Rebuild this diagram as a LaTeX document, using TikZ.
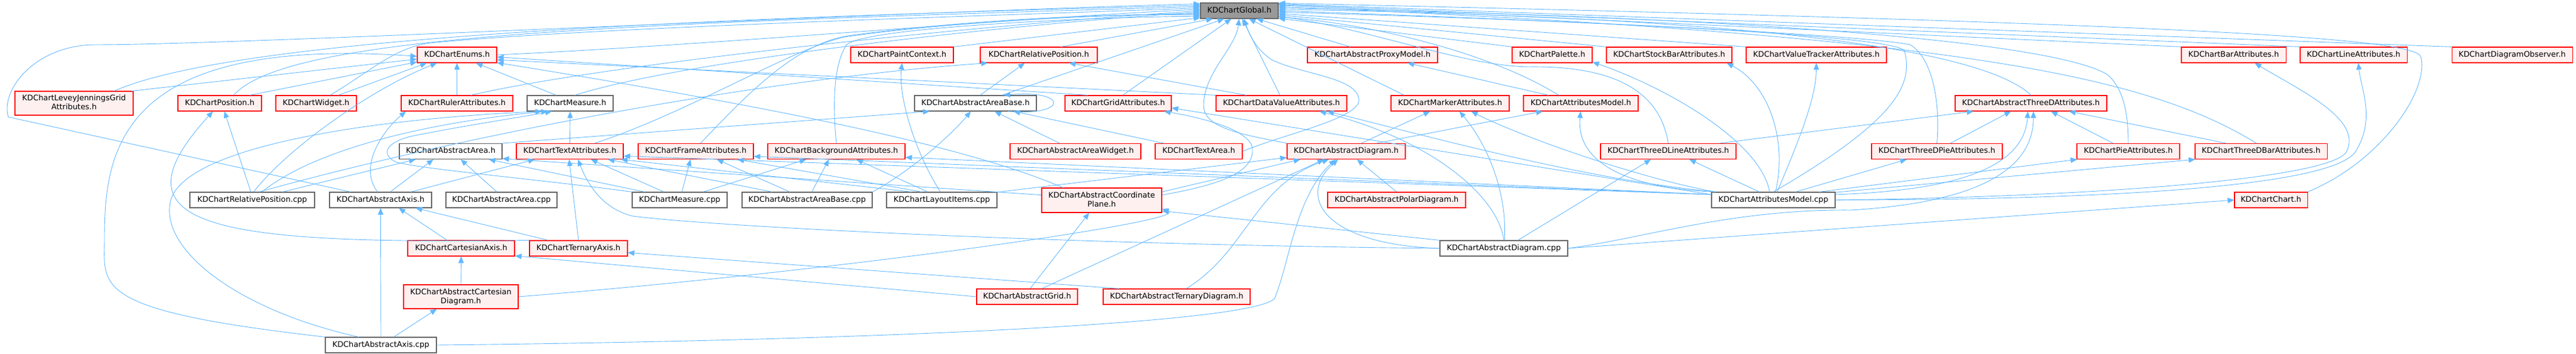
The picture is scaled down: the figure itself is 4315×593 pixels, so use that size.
\documentclass[tikz,border=0pt]{standalone}
\usepackage{fontspec}
\setmainfont{DejaVu Sans}
\usetikzlibrary{arrows.meta}
\definecolor{edgeblue}{HTML}{63B8FF}
\definecolor{nodered}{HTML}{FF0000}
\definecolor{redfill}{HTML}{FFF0F0}
\definecolor{nodegray}{HTML}{666666}
\definecolor{globalfill}{HTML}{999999}
\begin{document}
\begin{tikzpicture}[x=1bp,y=-1bp,
  box/.style={line width=1.1bp,inner sep=0pt,minimum height=26bp,align=center,text height=9.6bp,text depth=2.6bp,font=\fontsize{12.9bp}{15bp}\selectfont},
  rnode/.style={box,draw=nodered,fill=redfill},
  fnode/.style={box,draw=nodegray,fill=white},
  gnode/.style={box,draw=nodegray,fill=globalfill},
  twoline/.style={minimum height=40bp,text height=24.6bp,text depth=2.6bp},
  edge/.style={draw=edgeblue,line width=0.9bp,-{Triangle[length=11bp,width=9bp]}}]
\useasboundingbox (0,0) rectangle (4315,593);
\node[gnode,minimum width=130bp] (globalh) at (2076,18) {KDChartGlobal.h};
\node[rnode,minimum width=133bp] (enums) at (765.5,92) {KDChartEnums.h};
\node[rnode,minimum width=172bp] (paintctx) at (1511,92) {KDChartPaintContext.h};
\node[rnode,minimum width=196bp] (relposh) at (1740,92) {KDChartRelativePosition.h};
\node[rnode,minimum width=218bp] (proxymodel) at (2299,92) {KDChartAbstractProxyModel.h};
\node[rnode,minimum width=134bp] (palette) at (2600,92) {KDChartPalette.h};
\node[rnode,minimum width=210bp] (stockbar) at (2796,92) {KDChartStockBarAttributes.h};
\node[rnode,minimum width=235bp] (valtracker) at (3042.5,92) {KDChartValueTrackerAttributes.h};
\node[rnode,minimum width=175bp] (barattr) at (3741.5,92) {KDChartBarAttributes.h};
\node[rnode,minimum width=179bp] (lineattr) at (3942.5,92) {KDChartLineAttributes.h};
\node[rnode,minimum width=202bp] (diagobs) at (4208,92) {KDChartDiagramObserver.h};
\node[rnode,twoline,minimum width=198bp] (leveyj) at (124,173) {KDChartLeveyJenningsGrid\\Attributes.h};
\node[rnode,minimum width=140bp] (positionh) at (368,173) {KDChartPosition.h};
\node[rnode,minimum width=135bp] (widget) at (529.5,173) {KDChartWidget.h};
\node[rnode,minimum width=187bp] (ruler) at (765.5,173) {KDChartRulerAttributes.h};
\node[fnode,minimum width=144bp] (measureh) at (955,173) {KDChartMeasure.h};
\node[fnode,minimum width=204bp] (areabaseh) at (1634,173) {KDChartAbstractAreaBase.h};
\node[rnode,minimum width=178bp] (gridattr) at (1873,173) {KDChartGridAttributes.h};
\node[rnode,minimum width=219bp] (dvattr) at (2146.5,173) {KDChartDataValueAttributes.h};
\node[rnode,minimum width=198bp] (marker) at (2429,173) {KDChartMarkerAttributes.h};
\node[rnode,minimum width=192bp] (attrmodelh) at (2648,173) {KDChartAttributesModel.h};
\node[rnode,minimum width=254bp] (threedattr) at (3402,173) {KDChartAbstractThreeDAttributes.h};
\node[fnode,minimum width=172bp] (areah) at (755,253.5) {KDChartAbstractArea.h};
\node[rnode,minimum width=179bp] (textattr) at (954.5,253.5) {KDChartTextAttributes.h};
\node[rnode,minimum width=193bp] (frameattr) at (1165.5,253.5) {KDChartFrameAttributes.h};
\node[rnode,minimum width=230bp] (bgattr) at (1401,253.5) {KDChartBackgroundAttributes.h};
\node[rnode,minimum width=219bp] (areawidget) at (1801.5,253.5) {KDChartAbstractAreaWidget.h};
\node[rnode,minimum width=146bp] (textarea) at (2008,253.5) {KDChartTextArea.h};
\node[rnode,minimum width=198bp] (diagramh) at (2255,253.5) {KDChartAbstractDiagram.h};
\node[rnode,minimum width=227bp] (threedline) at (2794.5,253.5) {KDChartThreeDLineAttributes.h};
\node[rnode,minimum width=219bp] (threedpie) at (3244.5,253.5) {KDChartThreeDPieAttributes.h};
\node[rnode,minimum width=172bp] (pieattr) at (3565,253.5) {KDChartPieAttributes.h};
\node[rnode,minimum width=221bp] (threedbar) at (3787.5,253.5) {KDChartThreeDBarAttributes.h};
\node[fnode,minimum width=209bp] (relposcpp) at (422.5,335) {KDChartRelativePosition.cpp};
\node[fnode,minimum width=171bp] (axish) at (637.5,335) {KDChartAbstractAxis.h};
\node[fnode,minimum width=186bp] (areacpp) at (840,335) {KDChartAbstractArea.cpp};
\node[fnode,minimum width=159bp] (measurecpp) at (1138.5,335) {KDChartMeasure.cpp};
\node[fnode,minimum width=218bp] (areabasecpp) at (1352,335) {KDChartAbstractAreaBase.cpp};
\node[fnode,minimum width=185bp] (layoutcpp) at (1577.5,335) {KDChartLayoutItems.cpp};
\node[rnode,twoline,minimum width=201bp,minimum height=41bp] (coordplane) at (1845.5,335.5) {KDChartAbstractCoordinate\\Plane.h};
\node[rnode,minimum width=231bp] (polar) at (2339.5,335) {KDChartAbstractPolarDiagram.h};
\node[fnode,minimum width=207bp] (attrmodelcpp) at (2970.5,335) {KDChartAttributesModel.cpp};
\node[rnode,minimum width=122bp] (charth) at (3804,335) {KDChartChart.h};
\node[rnode,minimum width=179bp] (cartaxis) at (772.5,416) {KDChartCartesianAxis.h};
\node[rnode,minimum width=164bp] (ternaryaxis) at (969,416) {KDChartTernaryAxis.h};
\node[fnode,minimum width=214bp] (diagramcpp) at (2519,416) {KDChartAbstractDiagram.cpp};
\node[rnode,twoline,minimum width=192bp] (cartdiag) at (772,497) {KDChartAbstractCartesian\\Diagram.h};
\node[rnode,minimum width=169bp] (gridh) at (1720.5,497) {KDChartAbstractGrid.h};
\node[rnode,minimum width=246bp] (ternarydiag) at (1971,497) {KDChartAbstractTernaryDiagram.h};
\node[fnode,minimum width=186bp] (axiscpp) at (638,578) {KDChartAbstractAxis.cpp};

\draw[edge] (leveyj.17) .. controls (400,60) and (1200,30) .. (globalh.172);
\draw[edge] (positionh.30) .. controls (480,60) and (1000,40) .. (globalh.174);
\draw[edge] (widget.30) .. controls (620,120) and (660,80) .. (720,72) .. controls (1000,45) and (1700,25) .. (globalh.176);
\draw[edge] (enums.east) .. controls (1200,75) and (1700,30) .. (globalh.178);
\draw[edge] (ruler.30) .. controls (1000,110) and (1600,45) .. (globalh.180);
\draw[edge] (measureh.60) .. controls (1150,100) and (1700,40) .. (globalh.182);
\draw[edge] (textattr.18) .. controls (1150,190) and (1330,80) .. (1415,62) .. controls (1600,35) and (1850,25) .. (globalh.184);
\draw[edge] (frameattr.60) .. controls (1250,160) and (1330,75) .. (1420,60) .. controls (1600,35) and (1850,22) .. (globalh.186);
\draw[edge] (bgattr.north) .. controls (1395,180) and (1395,110) .. (1418,75) .. controls (1450,45) and (1850,28) .. (globalh.188);
\draw[edge] (paintctx.north east) -- (globalh.190);
\draw[edge] (relposh.20) -- (globalh.197);
\draw[edge] (areabaseh.17) -- (globalh.208);
\draw[edge] (gridattr.60) -- (globalh.225);
\draw[edge] (diagramh.north west) .. controls (2080,225) and (2015,215) .. (2016,175) .. controls (2018,120) and (2070,80) .. (globalh.268);
\draw[edge] (dvattr.100) -- (globalh.290);
\draw[edge] (textarea.east) .. controls (2150,225) and (2270,200) .. (2276,170) .. controls (2280,130) and (2180,125) .. (2130,100) .. controls (2100,80) and (2090,50) .. (globalh.300);
\draw[edge] (marker.170) -- (globalh.320);
\draw[edge] (proxymodel.160) -- (globalh.335);
\draw[edge] (attrmodelh.160) .. controls (2500,90) and (2300,40) .. (globalh.351);
\draw[edge] (threedline.north) .. controls (2780,150) and (2700,110) .. (2560,112) .. controls (2450,110) and (2300,50) .. (globalh.352);
\foreach \n/\a in {palette/349,stockbar/354,valtracker/356,barattr/8,lineattr/9,diagobs/10}
    \draw[edge] (\n.north west) -- (globalh.\a);
\draw[edge] (attrmodelcpp.north) .. controls (3180,200) and (3205,140) .. (3190,85) .. controls (3170,55) and (2500,30) .. (globalh.358);
\draw[edge] (threedpie.north) .. controls (3250,180) and (3240,100) .. (3200,75) .. controls (3100,55) and (2500,30) .. (globalh.0);
\draw[edge] (threedattr.north) .. controls (3330,90) and (3000,30) .. (globalh.2);
\draw[edge] (pieattr.north) .. controls (3565,200) and (3560,150) .. (3530,125) .. controls (3450,75) and (3000,30) .. (globalh.4);
\draw[edge] (threedbar.120) .. controls (3600,130) and (3300,60) .. (globalh.6);
\draw[edge] (charth.north east) .. controls (3990,270) and (4070,150) .. (4055,95) .. controls (4045,65) and (3700,40) .. (globalh.11);
\draw[edge] (axish.165) -- (14,196) .. controls (0,150) and (60,75) .. (160,75) .. controls (400,75) and (1500,20) .. (globalh.170);

\draw[edge] (axiscpp.north west) .. controls (150,520) and (175,480) .. (175,400) .. controls (175,250) and (200,60) .. (enums.182);
\draw[edge] (leveyj.12) -- (enums.186);
\draw[edge] (positionh.15) -- (enums.190);
\draw[edge] (widget.20) -- (enums.195);
\draw[edge] (relposcpp.80) .. controls (480,250) and (620,150) .. (enums.202);
\draw[edge] (ruler.north) -- (enums.south);
\draw[edge] (measureh.150) -- (enums.337);
\draw[edge] (coordplane.162) .. controls (1620,245) and (1300,180) .. (enums.349);
\draw[edge] (dvattr.north west) -- (enums.353);
\draw[edge] (gridattr.165) -- (enums.357);

\draw[edge] (relposcpp.100) -- (positionh.300);
\draw[edge] (ternaryaxis.north west) .. controls (350,410) and (180,380) .. (positionh.230);
\draw[edge] (axish.110) .. controls (600,280) and (640,220) .. (ruler.189);
\draw[edge] (textattr.north) -- (measureh.south);
\draw[edge] (relposcpp.40) .. controls (540,240) and (760,200) .. (measureh.200);
\draw[edge] (axiscpp.160) .. controls (400,520) and (270,420) .. (285,340) .. controls (300,250) and (600,200) .. (measureh.196);
\draw[edge] (measurecpp.north west) .. controls (900,300) and (720,285) .. (665,272) .. controls (640,262) and (640,240) .. (690,228) .. controls (780,210) and (880,195) .. (measureh.204);
\draw[edge] (relposcpp.50) .. controls (800,220) and (1300,130) .. (relposh.189);
\draw[edge] (areabaseh.60) -- (relposh.210);
\draw[edge] (dvattr.167) -- (relposh.345);
\draw[edge] (layoutcpp.100) .. controls (1530,250) and (1505,160) .. (paintctx.south);

\draw[edge] (areah.north east) -- (areabaseh.190);
\draw[edge] (areabasecpp.north east) .. controls (1520,290) and (1590,230) .. (areabaseh.240);
\draw[edge] (areawidget.153) -- (areabaseh.337);
\draw[edge] (textarea.167) -- (areabaseh.348);
\draw[edge] (areabaseh.346) .. controls (1790,195) and (1790,150) .. (areabaseh.16);
\draw[edge] (relposcpp.15) -- (areah.193);
\draw[edge] (axish.40) -- (areah.205);
\draw[edge] (areacpp.120) -- (areah.321);
\draw[edge] (measurecpp.167) -- (areah.348);
\draw[edge] (coordplane.175) -- (areah.352);

\draw[edge] (axish.15) -- (textattr.193);
\draw[edge] (ternaryaxis.north) -- (textattr.265);
\draw[edge] (diagramcpp.west) .. controls (1800,410) and (1200,380) .. (1060,362) .. controls (1010,350) and (985,310) .. (textattr.315);
\draw[edge] (measurecpp.153) -- (textattr.339);
\draw[edge] (areabasecpp.167) -- (textattr.348);
\draw[edge] (layoutcpp.165) -- (textattr.351);
\draw[edge] (measurecpp.75) -- (frameattr.237);
\draw[edge] (areabasecpp.155) -- (frameattr.339);
\draw[edge] (layoutcpp.158) -- (frameattr.349);
\draw[edge] (measurecpp.19) -- (bgattr.195);
\draw[edge] (areabasecpp.60) -- (bgattr.227);
\draw[edge] (layoutcpp.150) -- (bgattr.338);
\foreach \t in {textattr,frameattr,bgattr}
    \draw[edge] (attrmodelcpp.175) -- (\t.355);
\draw[edge] (attrmodelcpp.175) -- (gridattr.355);
\draw[edge] (coordplane.5) .. controls (2040,310) and (2100,290) .. (2098,250) .. controls (2096,215) and (2000,195) .. (gridattr.350);

\draw[edge] (diagramcpp.north) .. controls (2510,330) and (2400,235) .. (dvattr.348);
\draw[edge] (attrmodelcpp.172) .. controls (2650,300) and (2400,230) .. (dvattr.350);
\draw[edge] (diagramh.28) -- (marker.202);
\draw[edge] (diagramcpp.85) .. controls (2525,320) and (2490,240) .. (marker.319);
\draw[edge] (attrmodelcpp.172) .. controls (2750,300) and (2550,230) .. (marker.339);
\draw[edge] (diagramh.15) -- (attrmodelh.192);
\draw[edge] (attrmodelcpp.172) .. controls (2720,315) and (2640,270) .. (attrmodelh.268);
\draw[edge] (attrmodelh.166) -- (proxymodel.347);
\draw[edge] (attrmodelcpp.115) .. controls (2950,240) and (2800,150) .. (palette.350);
\draw[edge] (attrmodelcpp.75) .. controls (2995,230) and (2960,140) .. (stockbar.352);
\draw[edge] (attrmodelcpp.65) .. controls (3020,220) and (3042,160) .. (valtracker.south);
\draw[edge] (attrmodelcpp.150) -- (threedline.339);
\draw[edge] (diagramcpp.30) -- (threedline.205);
\draw[edge] (threedline.9) -- (threedattr.188);
\draw[edge] (threedpie.31) -- (threedattr.202);
\draw[edge] (attrmodelcpp.5) .. controls (3250,320) and (3390,290) .. (threedattr.249);
\draw[edge] (diagramcpp.east) .. controls (2750,400) and (2900,350) .. (3100,352) .. controls (3300,340) and (3406,290) .. (threedattr.287);
\draw[edge] (pieattr.152) -- (threedattr.338);
\draw[edge] (threedbar.167) -- (threedattr.348);
\draw[edge] (attrmodelcpp.20) -- (threedpie.195);
\draw[edge] (attrmodelcpp.10) -- (pieattr.189);
\draw[edge] (attrmodelcpp.7) -- (threedbar.187);
\draw[edge] (attrmodelcpp.east) .. controls (3500,330) and (3900,300) .. (3930,255) .. controls (3960,200) and (3850,150) .. (barattr.339);
\draw[edge] (attrmodelcpp.east) .. controls (3500,335) and (3900,315) .. (3945,255) .. controls (3980,200) and (3955,150) .. (lineattr.300);
\draw[edge] (diagramcpp.east) -- (charth.west);

\draw[edge] (axiscpp.east) .. controls (1500,570) and (2100,540) .. (2135,500) .. controls (2160,440) and (2170,330) .. (diagramh.217);
\draw[edge] (layoutcpp.8) -- (diagramh.186);
\draw[edge] (coordplane.8) -- (diagramh.190);
\draw[edge] (gridh.29) -- (diagramh.200);
\draw[edge] (ternarydiag.40) .. controls (2090,420) and (2100,310) .. (diagramh.205);
\draw[edge] (diagramcpp.west) .. controls (2220,410) and (2170,330) .. (diagramh.225);
\draw[edge] (polar.north) -- (diagramh.323);
\draw[edge] (gridh.70) -- (coordplane.225);
\draw[edge] (diagramcpp.north west) -- (coordplane.350);
\draw[edge] (cartdiag.east) .. controls (1400,455) and (2000,370) .. (coordplane.352);
\draw[edge] (cartdiag.north) -- (cartaxis.south);
\draw[edge] (gridh.west) -- (cartaxis.352);
\draw[edge] (ternarydiag.172) -- (ternaryaxis.355);
\draw[edge] (axiscpp.north) -- (axish.south);
\draw[edge] (cartaxis.150) -- (axish.336);
\draw[edge] (ternaryaxis.165) -- (axish.347);
\draw[edge] (axiscpp.32) -- (cartdiag.207);
\end{tikzpicture}
\end{document}
